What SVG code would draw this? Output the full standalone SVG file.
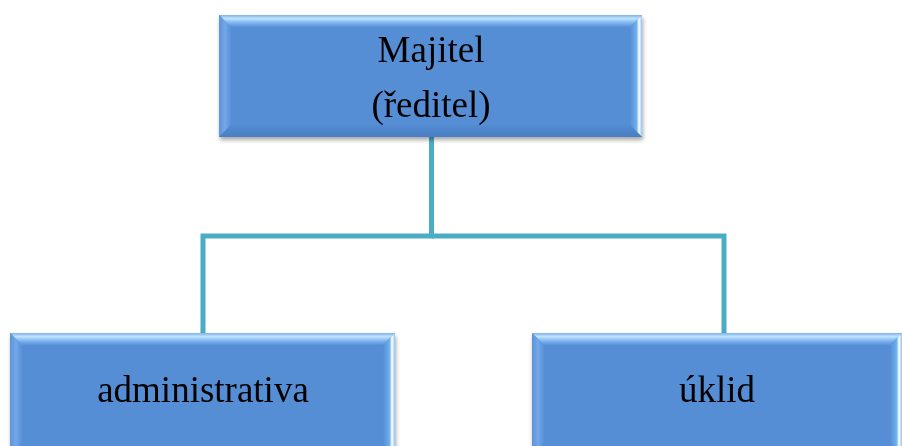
<svg xmlns="http://www.w3.org/2000/svg" width="902" height="446" viewBox="0 0 902 446">
<style>
.face{fill:#558ed5}
.txt{font-family:"Liberation Serif","Times New Roman",serif;font-size:37px;fill:#000;text-anchor:middle}
.conn{fill:none;stroke:#4bacc6;stroke-width:5;stroke-linejoin:miter}
</style>
<defs>
<linearGradient id="gTop" x1="0" y1="0" x2="0" y2="1">
<stop offset="0" stop-color="#7fb0ea"/><stop offset="0.3" stop-color="#c0e4ff"/><stop offset="0.6" stop-color="#86bbf3"/><stop offset="1" stop-color="#5a91d8"/>
</linearGradient>
<linearGradient id="gLeft" x1="0" y1="0" x2="1" y2="0">
<stop offset="0" stop-color="#5e93d8"/><stop offset="0.5" stop-color="#72a7e8"/><stop offset="1" stop-color="#5a90d7"/>
</linearGradient>
<linearGradient id="gRight" x1="0" y1="0" x2="1" y2="0">
<stop offset="0" stop-color="#558ed5"/><stop offset="0.55" stop-color="#6fb0ee"/><stop offset="0.75" stop-color="#ffffff"/><stop offset="1" stop-color="#8fc4f2"/>
</linearGradient>
<linearGradient id="gBot" x1="0" y1="0" x2="0" y2="1">
<stop offset="0" stop-color="#548bd0"/><stop offset="1" stop-color="#4a7fc4"/>
</linearGradient>
<filter id="sh" x="-5%" y="-5%" width="110%" height="120%">
<feGaussianBlur in="SourceAlpha" stdDeviation="2"/>
<feOffset dx="1" dy="3" result="b"/>
<feComponentTransfer><feFuncA type="linear" slope="0.35"/></feComponentTransfer>
<feMerge><feMergeNode/><feMergeNode in="SourceGraphic"/></feMerge>
</filter>
</defs>
<g id="connectors">
<path class="conn" d="M431.5,137 V236 H203 V333"/>
<path class="conn" d="M431.5,236 H724 V333"/>
</g>
<g id="node-majitel" filter="url(#sh)">
<rect class="face" x="219" y="15" width="423" height="122"/>
<polygon points="219,15 642,15 630,27 231,27" fill="url(#gTop)"/>
<polygon points="219,15 231,27 231,125 219,137" fill="url(#gLeft)"/>
<polygon points="642,15 642,137 630,125 630,27" fill="url(#gRight)"/>
<polygon points="219,137 231,125 630,125 642,137" fill="url(#gBot)"/>
<text class="txt" x="431" y="62">Majitel</text>
<text class="txt" x="431" y="117">(ředitel)</text>
</g>
<g id="node-administrativa" filter="url(#sh)">
<rect class="face" x="10" y="333" width="385" height="122"/>
<polygon points="10,333 395,333 383,345 22,345" fill="url(#gTop)"/>
<polygon points="10,333 22,345 22,443 10,455" fill="url(#gLeft)"/>
<polygon points="395,333 395,455 383,443 383,345" fill="url(#gRight)"/>
<text class="txt" x="203" y="402">administrativa</text>
</g>
<g id="node-uklid" filter="url(#sh)">
<rect class="face" x="532" y="333" width="370" height="122"/>
<polygon points="532,333 902,333 890,345 544,345" fill="url(#gTop)"/>
<polygon points="532,333 544,345 544,443 532,455" fill="url(#gLeft)"/>
<polygon points="902,333 902,455 890,443 890,345" fill="url(#gRight)"/>
<text class="txt" x="717" y="402">úklid</text>
</g>
</svg>
